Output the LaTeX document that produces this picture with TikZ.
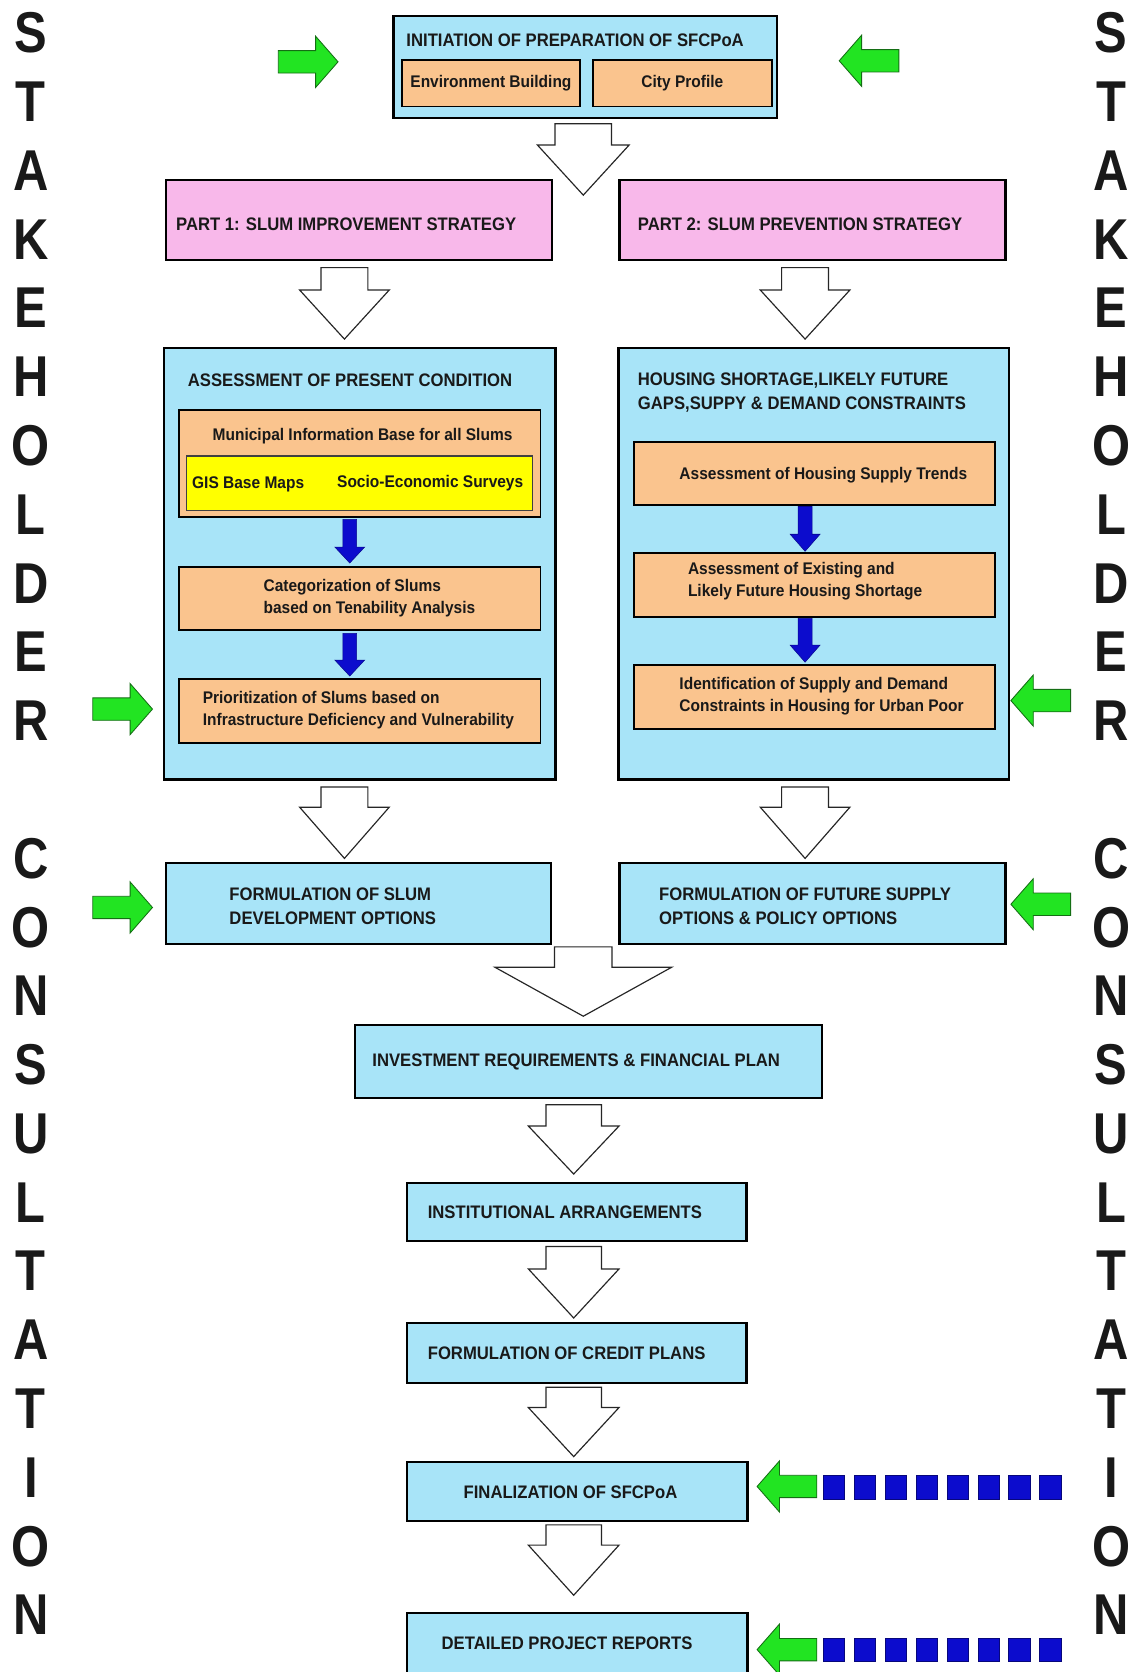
\documentclass[tikz,border=0pt]{standalone}
\usepackage{fontspec}
\setmainfont{Liberation Sans}
\newfontfamily\flowfont[FakeStretch=0.92]{Liberation Sans}
\newfontfamily\sidefont[FakeStretch=0.85]{Liberation Sans}

\definecolor{skyfill}{RGB}{168,228,248}
\definecolor{pinkfill}{RGB}{248,184,234}
\definecolor{orangefill}{RGB}{250,196,142}
\definecolor{yellowfill}{RGB}{255,255,0}
\definecolor{greenfill}{RGB}{34,228,34}
\definecolor{greenline}{RGB}{20,110,20}
\definecolor{bluefill}{RGB}{12,12,205}
\definecolor{inkcol}{RGB}{25,25,25}

\newcommand\capsfont{\flowfont\bfseries\fontsize{17}{22}\selectfont}
\newcommand\mixfont{\flowfont\bfseries\fontsize{15.8}{20.5}\selectfont}

% hollow block arrow pointing down: centre x, top, head top, tip, shaft half-width, head half-width
\newcommand\hollowdown[6]{%
  \draw[hollowarrow] ({#1-#5},#2) -- ({#1+#5},#2) -- ({#1+#5},#3) -- ({#1+#6},#3)
    -- (#1,#4) -- ({#1-#6},#3) -- ({#1-#5},#3) -- cycle;}
% small solid blue arrow pointing down: centre x, top, head top, tip
\newcommand\bluedown[4]{%
  \draw[bluearrow] ({#1-6.5},#2) -- ({#1+6.5},#2) -- ({#1+6.5},#3) -- ({#1+14},#3)
    -- (#1,#4) -- ({#1-14},#3) -- ({#1-6.5},#3) -- cycle;}
% green block arrow pointing right: tail x, centre y
\newcommand\greenright[2]{%
  \draw[greenarrow] (#1,{#2-10.5}) -- ({#1+35},{#2-10.5}) -- ({#1+35},{#2-24}) -- ({#1+56},#2)
    -- ({#1+35},{#2+24}) -- ({#1+35},{#2+10.5}) -- (#1,{#2+10.5}) -- cycle;}
% green block arrow pointing left: tip x, centre y
\newcommand\greenleft[2]{%
  \draw[greenarrow] (#1,#2) -- ({#1+21},{#2-24}) -- ({#1+21},{#2-10.5}) -- ({#1+56},{#2-10.5})
    -- ({#1+56},{#2+10.5}) -- ({#1+21},{#2+10.5}) -- ({#1+21},{#2+24}) -- cycle;}

\tikzset{
  panel/.style={draw=black, line width=2pt, fill=skyfill, anchor=north west, inner sep=0pt},
  pinkpanel/.style={panel, fill=pinkfill},
  orangepanel/.style={draw=black, line width=1.8pt, fill=orangefill, anchor=north west, inner sep=0pt},
  yellowpanel/.style={draw=black!75, line width=1.2pt, fill=yellowfill, anchor=north west, inner sep=0pt},
  capslabel/.style={font=\capsfont, text=inkcol, inner sep=0pt, align=left},
  mixlabel/.style={font=\mixfont, text=inkcol, inner sep=0pt, align=left},
  sidelabel/.style={font={\sidefont\bfseries\fontsize{54}{54}\selectfont}, text=inkcol, inner sep=0pt},
  hollowarrow/.style={draw=black!85, line width=1.1pt, fill=white, line join=miter},
  greenarrow/.style={draw=greenline, line width=0.8pt, fill=greenfill},
  bluearrow/.style={fill=bluefill, draw=bluefill!70!black, line width=0.5pt},
  bluesq/.style={fill=bluefill, draw=bluefill!60!black, line width=0.6pt},
}

\begin{document}
\begin{tikzpicture}[x=1pt, y=-1pt]
\useasboundingbox (0,0) rectangle (1064,1568);
\fill[white] (0,0) rectangle (1064,1568);

% side captions
\foreach \l/\k in {S/0,T/1,A/2,K/3,E/4,H/5,O/6,L/7,D/8,E/9,R/10,
                   C/12,O/13,N/14,S/15,U/16,L/17,T/18,A/19,T/20,I/21,O/22,N/23} {
  \node[sidelabel] (sl\k) at (29, {31+64.5*\k}) {\l};
  \node[sidelabel] (sr\k) at (1042, {31+64.5*\k}) {\l};
}

% initiation block
\node[panel, minimum width=360, minimum height=96] (init) at (368,14) {};
\node[orangepanel, minimum width=167, minimum height=44] (env) at (376,55) {};
\node[orangepanel, minimum width=168, minimum height=44] (city) at (555,55) {};
\node[capslabel, anchor=west] (initT) at (381,38) {INITIATION OF PREPARATION OF SFCPoA};
\node[mixlabel] (envT) at (env.center) {Environment Building};
\node[mixlabel] (cityT) at (city.center) {City Profile};
\hollowdown{547}{116}{136}{183}{26.5}{43}

% the two strategies
\node[pinkpanel, minimum width=362, minimum height=75] (part1) at (155,168) {};
\node[pinkpanel, minimum width=362, minimum height=75] (part2) at (580,168) {};
\node[capslabel, anchor=west] (part1T) at (165,210) {PART 1: SLUM IMPROVEMENT STRATEGY};
\node[capslabel, anchor=west] (part2T) at (598,210) {PART 2: SLUM PREVENTION STRATEGY};
\hollowdown{323}{251}{272}{318}{22}{42}
\hollowdown{755}{251}{272}{318}{22}{42}

% left analysis column
\node[panel, minimum width=367, minimum height=405] (contL) at (153,325) {};
\node[capslabel, anchor=west] (contLT) at (176,357) {ASSESSMENT OF PRESENT CONDITION};
\node[orangepanel, minimum width=339, minimum height=100] (mib) at (167,384) {};
\node[yellowpanel, minimum width=325, minimum height=51] (gis) at (174,427) {};
\node[mixlabel] (mibT) at (340,409) {Municipal Information Base for all Slums};
\node[mixlabel, anchor=west] (gisT) at (180,454) {GIS Base Maps};
\node[mixlabel, anchor=west] (sesT) at (316,453) {Socio-Economic Surveys};
\bluedown{328}{487}{513}{528}
\node[orangepanel, minimum width=339, minimum height=59] (cat) at (167,531) {};
\node[mixlabel, anchor=west] (catT) at (247,561) {Categorization of Slums\\based on Tenability Analysis};
\bluedown{328}{594}{619}{634}
\node[orangepanel, minimum width=339, minimum height=60] (pri) at (167,636) {};
\node[mixlabel, anchor=west] (priT) at (190,666) {Prioritization of Slums based on\\Infrastructure Deficiency and Vulnerability};

% right analysis column
\node[panel, minimum width=366, minimum height=405] (contR) at (579,325) {};
\node[capslabel, anchor=west] (contRT) at (598,368) {HOUSING SHORTAGE,LIKELY FUTURE\\GAPS,SUPPY \& DEMAND CONSTRAINTS};
\node[orangepanel, minimum width=338, minimum height=59] (supply) at (594,414) {};
\node[mixlabel, anchor=west] (supplyT) at (637,446) {Assessment of Housing Supply Trends};
\bluedown{755}{475}{501}{517}
\node[orangepanel, minimum width=338, minimum height=60] (short) at (594,518) {};
\node[mixlabel, anchor=west] (shortT) at (645,545) {Assessment of Existing and\\Likely Future Housing Shortage};
\bluedown{755}{580}{605}{621}
\node[orangepanel, minimum width=338, minimum height=60] (constr) at (594,623) {};
\node[mixlabel, anchor=west] (constrT) at (637,653) {Identification of Supply and Demand\\Constraints in Housing for Urban Poor};

\hollowdown{323}{738}{757}{805}{22}{42}
\hollowdown{755}{738}{757}{805}{22}{42}

% options
\node[panel, minimum width=361, minimum height=76] (formL) at (155,808) {};
\node[panel, minimum width=362, minimum height=76] (formR) at (580,808) {};
\node[capslabel, anchor=west] (formLT) at (215,850) {FORMULATION OF SLUM\\DEVELOPMENT OPTIONS};
\node[capslabel, anchor=west] (formRT) at (618,850) {FORMULATION OF FUTURE SUPPLY\\OPTIONS \& POLICY OPTIONS};
\hollowdown{547}{888}{907}{953}{27}{83}

% final sequence
\node[panel, minimum width=438, minimum height=69] (invest) at (332,960) {};
\node[capslabel, anchor=west] (investT) at (349,996) {INVESTMENT REQUIREMENTS \& FINANCIAL PLAN};
\hollowdown{538}{1036}{1056}{1101}{26}{42.5}
\node[panel, minimum width=318, minimum height=55] (inst) at (381,1108) {};
\node[capslabel, anchor=west] (instT) at (401,1137) {INSTITUTIONAL ARRANGEMENTS};
\hollowdown{538}{1169}{1190}{1236}{26}{42.5}
\node[panel, minimum width=318, minimum height=56] (credit) at (381,1240) {};
\node[capslabel, anchor=west] (creditT) at (401,1269) {FORMULATION OF CREDIT PLANS};
\hollowdown{538}{1301}{1320}{1366}{26}{42.5}
\node[panel, minimum width=319, minimum height=55] (final) at (381,1370) {};
\node[capslabel] (finalT) at (535,1399) {FINALIZATION OF SFCPoA};
\hollowdown{538}{1430}{1449}{1496}{26}{42.5}
\node[panel, minimum width=319, minimum height=62] (dpr) at (381,1512) {};
\node[capslabel, anchor=west] (dprT) at (414,1541) {DETAILED PROJECT REPORTS};

% stakeholder inputs
\greenright{261}{58}
\greenleft{787}{57}
\greenright{87}{665}
\greenleft{948}{657}
\greenright{87}{851}
\greenleft{948}{848}
\greenleft{710}{1394}
\greenleft{710}{1547}
\foreach \i in {0,...,7} {
  \draw[bluesq] ({772+29*\i},1384) rectangle ++(20,22);
  \draw[bluesq] ({772+29*\i},1536) rectangle ++(20,22);
}
\end{tikzpicture}
\end{document}
